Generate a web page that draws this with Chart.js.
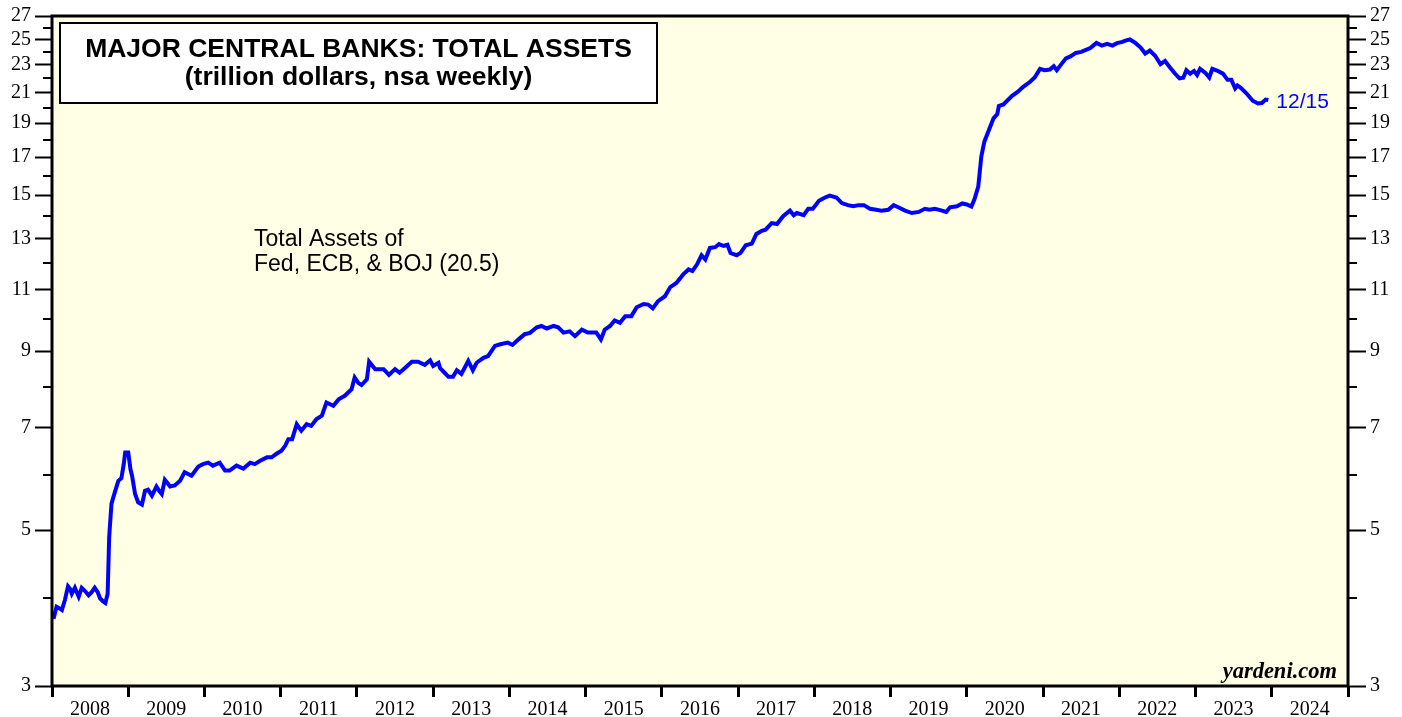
<!DOCTYPE html>
<html>
<head>
<meta charset="utf-8">
<script src="https://cdn.jsdelivr.net/npm/chart.js@4.4.1/dist/chart.umd.min.js"></script>
<style>
  html, body { margin: 0; padding: 0; background: #ffffff; }
  #wrap { width: 1402px; height: 717px; }
</style>
</head>
<body>
<div id="wrap"><canvas id="c" width="1402" height="717"></canvas></div>
<script>
// ---- data (decimal year, trillion dollars) ----
const years = [
  2008.02,2008.06,2008.10,2008.13,2008.17,2008.21,2008.24,2008.26,2008.30,2008.35,
  2008.39,2008.43,2008.48,2008.52,2008.56,2008.60,2008.63,2008.67,2008.70,2008.73,
  2008.75,2008.78,2008.80,2008.83,2008.87,2008.91,2008.94,2008.96,2009.00,2009.03,
  2009.05,2009.09,2009.13,2009.18,2009.22,2009.26,2009.31,2009.37,2009.41,2009.44,
  2009.48,2009.55,2009.61,2009.68,2009.74,2009.83,2009.92,2009.98,2010.05,2010.11,
  2010.20,2010.27,2010.33,2010.42,2010.51,2010.60,2010.66,2010.73,2010.82,2010.88,
  2010.95,2011.01,2011.06,2011.10,2011.15,2011.21,2011.27,2011.34,2011.40,2011.47,
  2011.54,2011.60,2011.69,2011.76,2011.84,2011.93,2011.97,2012.02,2012.06,2012.13,
  2012.16,2012.24,2012.35,2012.42,2012.50,2012.56,2012.63,2012.72,2012.80,2012.89,
  2012.96,2013.00,2013.07,2013.09,2013.15,2013.20,2013.26,2013.31,2013.37,2013.46,
  2013.52,2013.57,2013.66,2013.72,2013.81,2013.88,2013.98,2014.04,2014.12,2014.20,
  2014.27,2014.36,2014.42,2014.49,2014.58,2014.64,2014.71,2014.79,2014.86,2014.95,
  2015.03,2015.14,2015.20,2015.25,2015.32,2015.38,2015.45,2015.52,2015.60,2015.67,
  2015.76,2015.82,2015.88,2015.95,2016.04,2016.11,2016.19,2016.28,2016.35,2016.40,
  2016.46,2016.52,2016.57,2016.63,2016.70,2016.75,2016.81,2016.86,2016.90,2016.98,
  2017.03,2017.10,2017.18,2017.24,2017.31,2017.36,2017.44,2017.51,2017.59,2017.68,
  2017.73,2017.77,2017.86,2017.92,2017.98,2018.06,2018.14,2018.20,2018.29,2018.36,
  2018.44,2018.51,2018.58,2018.65,2018.73,2018.81,2018.88,2018.97,2019.04,2019.10,
  2019.19,2019.28,2019.37,2019.45,2019.51,2019.58,2019.64,2019.73,2019.78,2019.87,
  2019.94,2020.00,2020.06,2020.10,2020.15,2020.19,2020.23,2020.29,2020.35,2020.40,
  2020.42,2020.48,2020.59,2020.67,2020.74,2020.83,2020.89,2020.96,2021.02,2021.09,
  2021.14,2021.18,2021.24,2021.30,2021.36,2021.43,2021.50,2021.57,2021.62,2021.70,
  2021.77,2021.84,2021.91,2021.97,2022.04,2022.09,2022.14,2022.21,2022.28,2022.34,
  2022.40,2022.47,2022.54,2022.60,2022.66,2022.73,2022.79,2022.84,2022.88,2022.93,
  2022.98,2023.02,2023.06,2023.13,2023.18,2023.22,2023.29,2023.36,2023.42,2023.47,
  2023.52,2023.55,2023.59,2023.67,2023.75,2023.82,2023.87,2023.92,2023.955
];
const totalAssets = [
  3.74,3.89,3.87,3.85,3.98,4.16,4.12,4.06,4.14,4.02,
  4.14,4.10,4.04,4.08,4.14,4.08,4.00,3.96,3.94,4.06,
  4.89,5.45,5.55,5.69,5.88,5.93,6.20,6.45,6.45,6.10,
  5.98,5.63,5.48,5.44,5.69,5.71,5.60,5.77,5.68,5.63,
  5.90,5.77,5.79,5.88,6.05,5.98,6.16,6.21,6.24,6.18,
  6.24,6.08,6.08,6.18,6.12,6.24,6.21,6.28,6.35,6.35,
  6.43,6.49,6.60,6.74,6.74,7.08,6.93,7.08,7.04,7.20,
  7.28,7.60,7.52,7.68,7.77,7.94,8.25,8.10,8.05,8.20,
  8.69,8.48,8.48,8.32,8.48,8.38,8.51,8.69,8.69,8.60,
  8.73,8.57,8.66,8.51,8.38,8.27,8.27,8.45,8.35,8.71,
  8.45,8.66,8.80,8.85,9.15,9.20,9.25,9.18,9.35,9.51,
  9.55,9.73,9.77,9.69,9.77,9.73,9.56,9.60,9.45,9.65,
  9.56,9.56,9.35,9.65,9.77,9.95,9.87,10.09,10.09,10.39,
  10.50,10.48,10.35,10.60,10.77,11.10,11.25,11.57,11.76,11.70,
  11.95,12.32,12.15,12.62,12.65,12.78,12.70,12.75,12.41,12.32,
  12.41,12.73,12.80,13.21,13.35,13.40,13.69,13.65,14.00,14.26,
  14.05,14.15,14.05,14.35,14.35,14.73,14.89,14.98,14.89,14.62,
  14.52,14.47,14.52,14.52,14.35,14.30,14.26,14.30,14.52,14.42,
  14.26,14.15,14.20,14.35,14.30,14.35,14.30,14.20,14.42,14.47,
  14.60,14.55,14.45,14.80,15.43,17.03,17.88,18.58,19.30,19.58,
  20.10,20.20,20.77,21.06,21.40,21.76,22.07,22.70,22.60,22.65,
  22.90,22.60,23.06,23.50,23.65,23.92,24.00,24.18,24.30,24.72,
  24.50,24.65,24.50,24.70,24.80,24.93,25.00,24.72,24.35,23.87,
  24.10,23.70,23.06,23.30,22.85,22.36,22.00,22.05,22.60,22.35,
  22.55,22.25,22.70,22.40,22.07,22.70,22.55,22.35,21.90,21.90,
  21.29,21.50,21.35,20.94,20.45,20.27,20.30,20.53,20.50
];
const yearTicks = [2008,2009,2010,2011,2012,2013,2014,2015,2016,2017,2018,2019,2020,2021,2022,2023,2024,2025];
const yearLabels = ['2008','2009','2010','2011','2012','2013','2014','2015','2016','2017','2018','2019','2020','2021','2022','2023','2024',''];
const yMajorTicks = [3,5,7,9,11,13,15,17,19,21,23,25,27];
const yMinorTicks = [4,6,8,10,12,14,16,18,20,22,24,26];
const titleLines = ['MAJOR CENTRAL BANKS: TOTAL ASSETS', '(trillion dollars, nsa weekly)'];
const noteLines = ['Total Assets of', 'Fed, ECB, & BOJ (20.5)'];
const lastLabel = '12/15';
const sourceLabel = 'yardeni.com';

const allYTicks = yMajorTicks.concat(yMinorTicks).sort((a, b) => a - b);

const decor = {
  id: 'decor',
  beforeDraw(chart) {
    const { ctx, chartArea: a } = chart;
    ctx.save();
    ctx.fillStyle = '#FFFFE5';
    ctx.fillRect(a.left, a.top, a.right - a.left, a.bottom - a.top);
    ctx.restore();
  },
  afterDatasetsDraw(chart) {
    const { ctx, chartArea: a } = chart;
    const ys = chart.scales.y;
    ctx.save();
    // minor ticks
    ctx.strokeStyle = '#000';
    ctx.lineWidth = 2;
    yMinorTicks.forEach(v => {
      const py = Math.round(ys.getPixelForValue(v));
      ctx.beginPath();
      ctx.moveTo(a.left - 9, py); ctx.lineTo(a.left, py);
      ctx.moveTo(a.right, py); ctx.lineTo(a.right + 9, py);
      ctx.stroke();
    });
    // plot frame
    ctx.lineWidth = 3;
    ctx.strokeRect(a.left, a.top, a.right - a.left, a.bottom - a.top);

    // title box
    const bx = a.left + 8, by = a.top + 7, bw = 597, bh = 80;
    ctx.fillStyle = '#ffffff';
    ctx.fillRect(bx, by, bw, bh);
    ctx.lineWidth = 2;
    ctx.strokeRect(bx, by, bw, bh);
    ctx.fillStyle = '#000';
    ctx.font = 'bold 26.5px "Liberation Sans", Arial, sans-serif';
    ctx.textAlign = 'center';
    ctx.textBaseline = 'middle';
    ctx.fillText(titleLines[0], bx + bw / 2, by + 27);
    ctx.fillText(titleLines[1], bx + bw / 2, by + 55);

    // note
    const xs = chart.scales.x;
    ctx.textAlign = 'left';
    ctx.textBaseline = 'alphabetic';
    ctx.font = '23px "Liberation Sans", Arial, sans-serif';
    ctx.fillText(noteLines[0], 254, 246);
    ctx.fillText(noteLines[1], 254, 271);

    // last value label
    const lx = xs.getPixelForValue(years[years.length - 1]);
    const ly = ys.getPixelForValue(totalAssets[totalAssets.length - 1]);
    ctx.font = '21px "Liberation Sans", Arial, sans-serif';
    ctx.fillStyle = '#0000FF';
    ctx.textBaseline = 'middle';
    ctx.fillText(lastLabel, lx + 8, ly + 2);

    // source
    ctx.fillStyle = '#000';
    ctx.textAlign = 'right';
    ctx.textBaseline = 'alphabetic';
    ctx.font = 'italic bold 22.5px "Liberation Serif", "Times New Roman", serif';
    ctx.fillText(sourceLabel, a.right - 11, a.bottom - 8);
    ctx.restore();
  }
};

const tickFont = { family: '"Liberation Serif", "Times New Roman", serif', size: 20 };

function yAxis(position, width, tickLen) {
  return {
    type: 'logarithmic',
    position: position,
    min: 3,
    max: 27,
    afterBuildTicks: s => { s.ticks = allYTicks.map(v => ({ value: v })); },
    afterFit: s => { s.width = width; },
    ticks: {
      autoSkip: false,
      color: '#000',
      font: tickFont,
      padding: 4,
      callback: v => (yMajorTicks.includes(v) ? String(v) : '')
    },
    grid: {
      drawOnChartArea: false,
      drawTicks: true,
      tickLength: tickLen,
      tickWidth: 2,
      tickColor: ctx => (ctx.tick && yMajorTicks.includes(ctx.tick.value)) ? '#000' : 'rgba(0,0,0,0)'
    },
    border: { display: false }
  };
}

new Chart(document.getElementById('c'), {
  type: 'line',
  data: {
    datasets: [{
      data: years.map((t, i) => ({ x: t, y: totalAssets[i] })),
      borderColor: '#0000FF',
      borderWidth: 4,
      pointRadius: 0,
      tension: 0,
      fill: false
    }]
  },
  options: {
    responsive: false,
    animation: false,
    devicePixelRatio: 1,
    layout: { padding: { top: 14, left: 0, right: 0, bottom: 0 } },
    plugins: { legend: { display: false }, tooltip: { enabled: false } },
    scales: {
      x: {
        type: 'linear',
        min: 2008,
        max: 2025,
        afterBuildTicks: s => { s.ticks = yearTicks.map(v => ({ value: v })); },
        afterFit: s => { s.height = 31; },
        ticks: {
          autoSkip: false,
          maxRotation: 0,
          minRotation: 0,
          labelOffset: 38,
          padding: 1,
          color: '#000',
          font: tickFont,
          callback: (v) => yearLabels[yearTicks.indexOf(v)]
        },
        grid: {
          drawOnChartArea: false,
          drawTicks: true,
          tickLength: 11,
          tickWidth: 3,
          tickColor: '#000'
        },
        border: { display: false }
      },
      y: yAxis('left', 52, 17),
      y2: yAxis('right', 54, 18)
    }
  },
  plugins: [decor]
});
</script>
</body>
</html>
